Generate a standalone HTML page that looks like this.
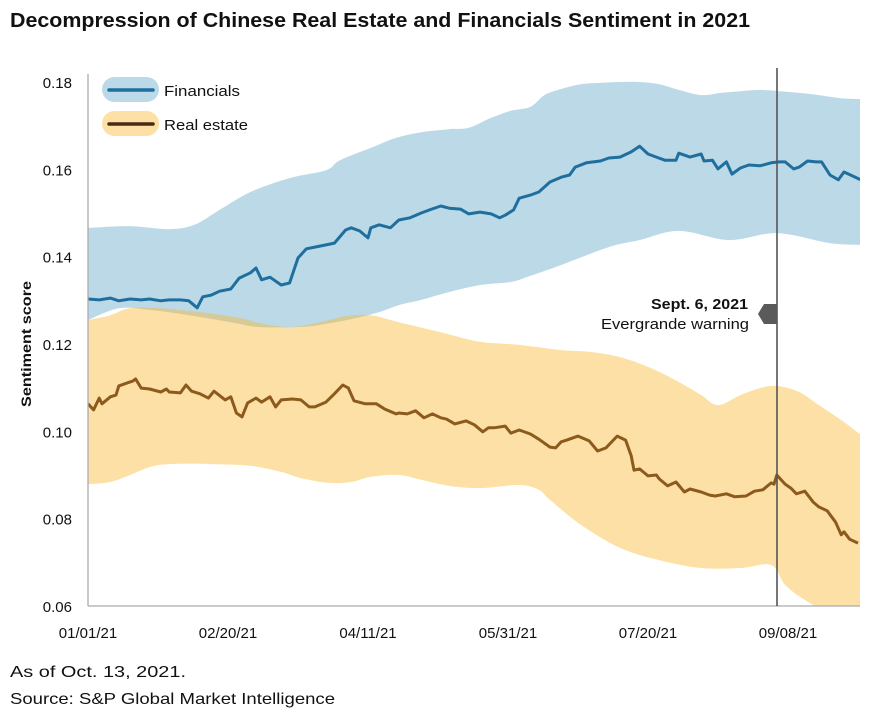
<!DOCTYPE html>
<html><head><meta charset="utf-8"><style>
html,body{margin:0;padding:0;background:#fff;}
svg{display:block;font-family:"Liberation Sans",sans-serif;}
</style></head><body>
<svg id="chart" width="874" height="716" viewBox="0 0 874 716" xmlns="http://www.w3.org/2000/svg">
<defs><clipPath id="plotclip"><rect x="88" y="60" width="772" height="546"/></clipPath></defs>
<text x="10" y="27" font-size="20" font-weight="bold" fill="#111" textLength="740" lengthAdjust="spacingAndGlyphs">Decompression of Chinese Real Estate and Financials Sentiment in 2021</text>
<g id="bands" clip-path="url(#plotclip)"></g>
<g id="lines" clip-path="url(#plotclip)"></g>
<line x1="88" y1="74" x2="88" y2="606" stroke="#aaa" stroke-width="1.3"/>
<line x1="88" y1="606" x2="860" y2="606" stroke="#aaa" stroke-width="1.3"/>
<g id="yticks"></g>
<g id="xticks"></g>
<text transform="translate(31,344) rotate(-90)" text-anchor="middle" font-size="14" font-weight="bold" fill="#111" textLength="126" lengthAdjust="spacingAndGlyphs">Sentiment score</text>
<line x1="777" y1="68" x2="777" y2="606" stroke="#555" stroke-width="1.6"/>
<polygon points="758,314 764,304 777,304 777,324 764,324" fill="#5a5a5a"/>
<text x="651" y="309" font-size="14.5" font-weight="bold" fill="#111" textLength="97" lengthAdjust="spacingAndGlyphs">Sept. 6, 2021</text>
<text x="601" y="329" font-size="14.5" fill="#111" textLength="148" lengthAdjust="spacingAndGlyphs">Evergrande warning</text>
<g>
<g>
<rect x="102" y="77" width="57" height="25" rx="12.5" fill="#bcd9e7"/>
<line x1="109" y1="90" x2="153" y2="90" stroke="#1f6f9e" stroke-width="3.5" stroke-linecap="round"/>
<text x="164" y="96" font-size="15" fill="#111" textLength="76" lengthAdjust="spacingAndGlyphs">Financials</text></g>
<g>
<rect x="102" y="111" width="57" height="25" rx="12.5" fill="#fde0a6"/>
<line x1="109" y1="124" x2="153" y2="124" stroke="#4a2a14" stroke-width="3.5" stroke-linecap="round"/>
<text x="164" y="130" font-size="15" fill="#111" textLength="84" lengthAdjust="spacingAndGlyphs">Real estate</text></g>
</g>
<text x="10" y="677" font-size="16" fill="#111" textLength="176" lengthAdjust="spacingAndGlyphs">As of Oct. 13, 2021.</text>
<text x="10" y="704" font-size="16" fill="#111" textLength="325" lengthAdjust="spacingAndGlyphs">Source: S&amp;P Global Market Intelligence</text>
</svg>
<script>
const finDays=[0,4,8,11,15,19,22,26,29,33,36,39,41,44,47,51,54,58,60,62,65,69,72,75,78,81,85,88,92,94,97,100,101,104,108,111,115,119,122,126,129,133,136,140,144,147,149,152,154,158,161,165,169,172,174,178,183,186,190,194,197,200,203,206,210,211,215,219,220,223,225,228,230,233,236,240,244,247,249,252,254,257,260,262,265,268,270,273,276];
const finValues=[.1303,.1301,.1305,.1299,.1303,.1301,.1303,.1299,.1301,.1301,.1299,.1283,.1308,.1312,.1321,.1326,.1351,.1363,.1374,.1347,.1353,.1335,.1340,.1397,.1418,.1422,.1427,.1431,.1461,.1466,.1459,.1443,.1466,.1473,.1466,.1484,.1489,.1500,.1507,.1516,.1511,.1509,.1498,.1502,.1498,.1489,.1495,.1507,.1534,.1541,.1548,.1571,.1582,.1587,.1605,.1615,.1619,.1626,.1628,.1640,.1653,.1635,.1628,.1621,.1621,.1637,.1628,.1635,.1619,.1621,.1601,.1617,.1589,.1603,.1610,.1608,.1615,.1617,.1617,.1601,.1605,.1619,.1617,.1617,.1587,.1576,.1594,.1585,.1576];
const reDays=[0,2,4,5,8,10,11,14,16,17,19,22,26,28,29,33,35,37,40,43,45,49,51,53,55,57,60,62,65,67,69,73,76,79,81,85,88,91,93,95,99,103,106,110,111,114,117,120,123,126,128,131,135,138,141,143,145,149,151,154,158,161,165,167,169,171,175,179,182,185,186,189,192,194,195,197,200,203,204,207,210,213,215,219,222,224,228,231,235,238,241,244,245,246,249,251,253,256,259,261,264,267,269,270,272,275];
const reValues=[.1063,.1049,.1076,.1063,.1079,.1083,.1104,.1111,.1115,.1120,.1099,.1097,.1090,.1097,.1090,.1088,.1106,.1092,.1086,.1076,.1092,.1072,.1079,.1042,.1033,.1065,.1076,.1067,.1079,.1056,.1072,.1074,.1072,.1056,.1056,.1067,.1086,.1106,.1099,.1070,.1063,.1063,.1051,.1040,.1042,.1040,.1047,.1031,.1040,.1031,.1028,.1017,.1024,.1015,.0999,.1008,.1008,.1012,.0996,.1003,.0994,.0982,.0964,.0962,.0976,.0980,.0989,.0978,.0955,.0962,.0969,.0989,.0980,.0944,.0911,.0914,.0898,.0900,.0891,.0875,.0884,.0861,.0868,.0861,.0854,.0852,.0857,.0850,.0852,.0863,.0866,.0882,.0879,.0900,.0879,.0870,.0857,.0863,.0838,.0827,.0818,.0792,.0763,.0770,.0753,.0744];
const finUpperDays=[0,15,29,38,47,58,72,85,90,101,110,119,129,136,144,151,158,163,169,176,183,190,197,204,211,219,226,233,240,247,254,261,269,276];
const finUpper=[.1466,.1470,.1463,.1473,.1507,.1548,.1580,.1598,.1621,.1649,.1672,.1685,.1692,.1695,.1718,.1734,.1743,.1770,.1784,.1795,.1798,.1800,.1800,.1795,.1782,.1770,.1775,.1779,.1782,.1779,.1775,.1770,.1763,.1761];
const finLowerDays=[0,11,22,36,51,61,76,83,94,104,111,119,129,140,151,158,169,186,197,211,229,246,265,276];
const finLower=[.1255,.1282,.1278,.1266,.1250,.1239,.1239,.1244,.1257,.1273,.1289,.1301,.1319,.1335,.1342,.1356,.1381,.1422,.1438,.1459,.1438,.1454,.1431,.1427];
const reUpperDays=[0,8,15,26,40,54,61,72,83,92,101,111,126,140,154,169,179,190,201,211,219,225,233,240,246,254,261,269,276];
const reUpper=[.1255,.1266,.1282,.1282,.1273,.1260,.1248,.1239,.1250,.1264,.1266,.1250,.1227,.1205,.1198,.1186,.1182,.1170,.1145,.1113,.1083,.1060,.1083,.1099,.1104,.1090,.1060,.1026,.0992];
const reLowerDays=[0,8,15,22,29,44,58,69,76,86,94,101,111,119,129,140,154,161,165,176,190,204,219,233,244,249,256,262,276];
const reLower=[.0879,.0884,.0900,.0918,.0925,.0925,.0921,.0907,.0893,.0882,.0884,.0896,.0900,.0889,.0875,.0870,.0877,.0866,.0843,.0786,.0733,.0705,.0687,.0687,.0694,.0648,.0614,.0595,.0579];
const yTicks=[0.06,0.08,0.10,0.12,0.14,0.16,0.18];
const yTickLabels=["0.06","0.08","0.10","0.12","0.14","0.16","0.18"];
const xTickDays=[0,50,100,150,200,250];
const xTickLabels=["01/01/21","02/20/21","04/11/21","05/31/21","07/20/21","09/08/21"];

const NS="http://www.w3.org/2000/svg";
const xS=d=>88+d*2.8;
const yS=v=>606-(v-0.06)/0.12*524;
function smoothPath(pts){
  let d="M"+pts[0][0].toFixed(1)+","+pts[0][1].toFixed(1);
  for(let i=0;i<pts.length-1;i++){
    const p0=pts[Math.max(0,i-1)],p1=pts[i],p2=pts[i+1],p3=pts[Math.min(pts.length-1,i+2)];
    const c1=[p1[0]+(p2[0]-p0[0])/6,p1[1]+(p2[1]-p0[1])/6];
    const c2=[p2[0]-(p3[0]-p1[0])/6,p2[1]-(p3[1]-p1[1])/6];
    d+="C"+c1.map(n=>n.toFixed(1))+" "+c2.map(n=>n.toFixed(1))+" "+p2.map(n=>n.toFixed(1));
  }
  return d;
}
function bandPath(ud,uv,ld,lv){
  const up=ud.map((d,i)=>[xS(d),yS(uv[i])]);
  const lo=ld.map((d,i)=>[xS(d),yS(lv[i])]).reverse();
  return smoothPath(up)+"L"+smoothPath(lo).slice(1)+"Z";
}
const bands=document.getElementById('bands');
const fb=document.createElementNS(NS,'path');
fb.setAttribute('d',bandPath(finUpperDays,finUpper,finLowerDays,finLower));
fb.setAttribute('fill','#bcd9e7');


bands.appendChild(fb);
const rb=document.createElementNS(NS,'path');
rb.setAttribute('d',bandPath(reUpperDays,reUpper,reLowerDays,reLower));
rb.setAttribute('fill','rgb(250,181,43)');
rb.setAttribute('fill-opacity','0.42');


bands.appendChild(rb);

const lines=document.getElementById('lines');
function line(days,vals,color,name){
  const p=document.createElementNS(NS,'polyline');
  p.setAttribute('points',days.map((d,i)=>xS(d).toFixed(1)+","+yS(vals[i]).toFixed(1)).join(" "));
  p.setAttribute('fill','none');
  p.setAttribute('stroke',color);
  p.setAttribute('stroke-width','3');
  p.setAttribute('stroke-linejoin','round');
  
  
  lines.appendChild(p);
}
line(finDays,finValues,'#1f6f9e','financials-line');
line(reDays,reValues,'#8b5a1c','real-estate-line');

const yt=document.getElementById('yticks');
yTicks.forEach((v,i)=>{
  const t=document.createElementNS(NS,'text');
  t.setAttribute('x','72');t.setAttribute('y',(yS(v)+6).toFixed(1));
  t.setAttribute('text-anchor','end');t.setAttribute('font-size','15');t.setAttribute('fill','#111');
  t.textContent=yTickLabels[i];
  
  
  yt.appendChild(t);
});
const xt=document.getElementById('xticks');
xTickDays.forEach((d,i)=>{
  const t=document.createElementNS(NS,'text');
  t.setAttribute('x',xS(d).toFixed(1));t.setAttribute('y','638');
  t.setAttribute('text-anchor','middle');t.setAttribute('font-size','15');t.setAttribute('fill','#111');
  t.textContent=xTickLabels[i];
  
  
  xt.appendChild(t);
});
</script>
</body></html>
